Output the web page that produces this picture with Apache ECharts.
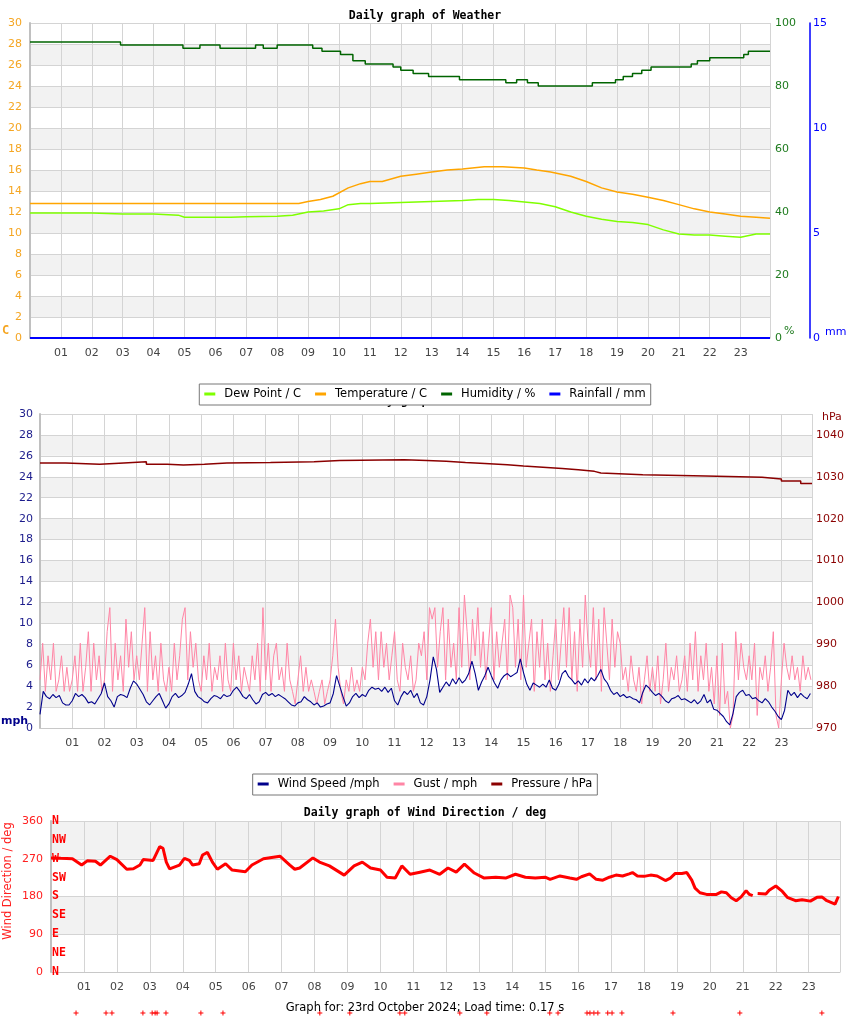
<!DOCTYPE html>
<html><head><meta charset="utf-8">
<script src="https://cdn.jsdelivr.net/npm/echarts@6/dist/echarts.min.js"></script>
<style>html,body{margin:0;padding:0;background:#fff}#c{width:850px;height:1017px}</style>
</head><body><div id="c"></div>
<script>
// ---------- DATA ----------
const hourLabels = ['01','02','03','04','05','06','07','08','09','10','11','12','13','14','15','16','17','18','19','20','21','22','23'];
const compassLabels = ['N','NE','E','SE','S','SW','W','NW','N'];

// [hour, value]
const temperature = [[0,12.8],[2,12.8],[4,12.8],[6,12.8],[8,12.8],[8.7,12.8],[9.0,13.0],[9.4,13.2],[9.8,13.5],[10.3,14.3],[10.7,14.7],[11.0,14.9],[11.4,14.9],[12.0,15.4],[12.5,15.6],[13.0,15.8],[13.5,16.0],[14.0,16.1],[14.7,16.3],[15.3,16.3],[16.0,16.2],[16.4,16.0],[16.85,15.8],[17.5,15.4],[18.0,14.9],[18.5,14.3],[19.0,13.9],[19.5,13.7],[20.0,13.4],[20.5,13.1],[21.0,12.7],[21.5,12.3],[22.0,12.0],[22.5,11.8],[23.0,11.6],[23.5,11.5],[23.95,11.4]];
const dewPoint = [[0,11.9],[1,11.9],[2,11.9],[3,11.8],[4,11.8],[4.8,11.7],[5.0,11.5],[6.0,11.5],[6.5,11.5],[7.0,11.55],[8.0,11.6],[8.5,11.7],[9.0,12.0],[9.5,12.1],[10.0,12.3],[10.3,12.7],[10.7,12.8],[11.0,12.8],[12.0,12.9],[13.0,13.0],[14.0,13.1],[14.5,13.2],[15.0,13.2],[15.5,13.1],[16.0,12.95],[16.5,12.8],[17.0,12.5],[17.5,12.0],[18.0,11.6],[18.5,11.3],[19.0,11.1],[19.5,11.0],[20.0,10.8],[20.5,10.3],[21.0,9.9],[21.5,9.8],[22.0,9.8],[22.5,9.7],[23.0,9.6],[23.5,9.9],[23.95,9.9]];
const humidity = [[0,94],[2.93,93],[4.95,92],[5.5,93],[6.15,92],[7.3,93],[7.55,92],[8.0,93],[9.15,92],[9.45,91],[10.05,90],[10.45,88],[10.85,87],[11.75,86],[12.0,85],[12.4,84],[12.9,83],[13.9,82],[15.4,81],[15.75,82],[16.1,81],[16.45,80],[18.2,81],[18.95,82],[19.2,83],[19.5,84],[19.8,85],[20.1,86],[21.4,87],[21.6,88],[22.0,89],[23.1,90],[23.25,91],[23.95,91]];
const rainfall = [[0,0],[23.95,0]];

// wind speed, one value every 0.1 h from 00:00
const windSpeed = [
1.3,3.5,3.0,2.8,3.2,2.9,3.1,2.4,2.2,2.2, 2.6,3.3,3.0,3.2,2.9,2.4,2.5,2.3,2.8,3.3,
4.3,3.0,2.6,2.0,3.0,3.2,3.1,2.9,3.8,4.5, 4.2,3.7,3.2,2.5,2.2,2.6,3.0,3.3,2.6,1.9,
2.3,3.0,3.3,2.9,3.1,3.4,4.2,5.2,3.5,3.0, 2.8,2.5,2.4,2.8,3.1,3.0,2.8,3.2,3.0,3.1,
3.6,3.9,3.5,3.0,2.8,3.2,2.7,2.3,2.5,3.2, 3.4,3.1,3.3,3.0,3.2,3.0,2.8,2.5,2.2,2.1,
2.4,2.5,3.0,2.7,2.5,2.2,2.4,2.0,2.1,2.3, 2.4,3.3,5.0,4.0,3.0,2.1,2.4,3.0,3.3,2.9,
3.2,3.0,3.6,3.9,3.7,3.8,3.5,3.9,3.4,3.8, 2.6,2.2,3.0,3.5,3.2,3.6,2.9,3.3,2.4,2.2,
3.0,4.6,6.8,5.6,3.4,3.9,4.4,4.0,4.7,4.2, 4.8,4.3,4.6,5.2,6.4,5.2,3.6,4.4,5.0,5.8,
5.0,4.3,3.8,4.6,5.0,5.2,4.9,5.1,5.3,6.6, 5.3,4.2,3.6,4.3,4.1,3.9,4.2,3.9,4.6,3.8,
3.6,4.2,5.2,5.5,4.9,4.6,4.2,4.5,4.1,4.7, 4.3,4.8,4.5,5.0,5.6,4.7,4.3,3.6,3.2,3.4,
3.0,3.2,2.9,3.0,2.8,2.7,2.4,3.4,4.1,3.8, 3.4,3.1,3.3,3.0,2.6,2.4,2.8,2.9,3.1,2.7,
2.8,2.6,2.4,2.7,2.3,2.6,3.2,2.4,2.7,1.8, 1.7,1.4,1.1,0.6,0.3,1.4,3.0,3.4,3.6,3.1,
3.2,2.8,2.9,2.6,2.4,2.8,2.5,2.0,1.6,1.1, 0.8,1.7,3.6,3.1,3.4,2.9,3.3,3.0,2.8,3.3];

// gust, one value every 5 minutes from 00:00
const gust = [
4.6,8.1,3.5,6.9,4.6,8.1,3.5,4.6,6.9,3.5,5.8,3.5,
4.6,6.9,3.5,8.1,3.5,5.8,9.2,3.5,8.1,4.6,6.9,3.5,
4.6,9.2,11.5,3.5,8.1,4.6,6.9,3.5,10.4,5.8,9.2,4.6,
6.9,4.6,8.1,11.5,3.5,9.2,4.6,6.9,3.5,8.1,4.6,3.5,
5.8,3.5,8.1,4.6,6.9,10.4,11.5,4.6,9.2,5.8,8.1,4.6,
3.5,6.9,4.6,8.1,3.5,5.8,4.6,6.9,3.5,8.1,4.6,3.5,
8.1,4.6,6.9,3.5,5.8,4.6,3.5,6.9,4.6,8.1,3.5,11.5,
4.6,8.1,3.5,6.9,8.1,4.6,5.8,3.5,8.1,4.6,3.5,2.3,
4.6,6.9,3.5,5.8,3.5,4.6,3.5,2.3,3.5,4.6,2.3,3.5,
4.6,6.9,10.4,5.8,3.5,2.3,4.6,3.5,5.8,3.5,4.6,3.5,
5.8,4.6,8.1,10.4,5.8,9.2,4.6,9.2,5.8,8.1,4.6,6.9,
9.2,4.6,3.5,8.1,5.8,4.6,6.9,3.5,4.6,8.1,6.9,9.2,
4.6,11.5,10.4,11.5,5.8,9.2,11.5,4.6,10.4,5.8,8.1,4.6,
11.5,5.8,12.7,9.2,4.6,10.4,6.9,11.5,5.8,9.2,4.6,8.1,
11.5,4.6,9.2,5.8,8.1,10.4,4.6,12.7,11.5,5.8,10.4,4.6,
12.7,5.8,8.1,10.4,3.5,9.2,5.8,10.4,4.6,8.1,3.5,6.9,
10.4,4.6,8.1,11.5,5.8,11.5,4.6,9.2,3.5,10.4,5.8,12.7,
8.1,5.8,11.5,4.6,10.4,3.5,11.5,8.1,4.6,10.4,5.8,9.2,
8.1,4.6,5.8,3.5,6.9,4.6,3.5,5.8,2.3,4.6,6.9,3.5,
5.8,3.5,6.9,2.3,4.6,8.1,3.5,5.8,4.6,6.9,3.5,4.6,
6.9,3.5,8.1,4.6,9.2,3.5,6.9,4.6,8.1,3.5,5.8,2.3,
6.9,1.2,8.1,2.3,3.5,0,1.2,9.2,4.6,8.1,5.8,4.6,
6.9,4.6,8.1,1.2,5.8,4.6,6.9,3.5,5.8,9.2,1.2,0,
4.6,8.1,5.8,4.6,6.9,4.6,5.8,3.5,6.9,4.6,5.8,4.6];

const pressure = [[0,1033.3],[0.8,1033.0],[1.85,1033.3],[2.6,1033.6],[3.3,1033.0],[3.95,1032.8],[4.45,1033.0],[5.1,1033.3],[5.8,1033.4],[7.15,1033.6],[8.5,1033.9],[9.3,1034.1],[11.3,1033.9],[12,1033.7],[12.6,1033.4],[13.2,1033.2],[13.8,1032.9],[14.5,1032.6],[15,1032.3],[15.6,1032.0],[16.2,1031.7],[16.7,1031.3],[17.2,1030.9],[17.4,1030.5],[18.7,1030.2],[20.65,1029.9],[22.4,1029.5],[23,1029.0],[23.6,1028.4],[23.95,1028.4]];

const windDir = [[0.0,272],[0.3,271],[0.65,270],[0.93,255],[1.1,265],[1.35,264],[1.5,255],[1.8,276],[2.0,268],[2.3,245],[2.5,246],[2.7,255],[2.8,268],[3.1,266],[3.3,299],[3.4,295],[3.5,262],[3.6,246],[3.9,255],[4.05,271],[4.2,266],[4.3,255],[4.5,258],[4.6,279],[4.75,285],[4.9,262],[5.05,245],[5.3,258],[5.5,243],[5.9,239],[6.1,255],[6.45,270],[6.95,276],[7.25,255],[7.4,245],[7.55,248],[7.95,272],[8.15,262],[8.45,253],[8.9,231],[9.2,253],[9.45,262],[9.7,248],[10.0,243],[10.2,226],[10.45,224],[10.65,253],[10.9,233],[11.2,238],[11.5,243],[11.8,233],[12.05,248],[12.3,238],[12.55,257],[12.85,236],[13.15,224],[13.5,226],[13.8,224],[14.1,233],[14.4,226],[14.7,224],[15.0,226],[15.15,221],[15.45,229],[15.75,224],[15.95,221],[16.1,227],[16.35,234],[16.55,221],[16.75,219],[16.95,226],[17.15,231],[17.35,229],[17.55,234],[17.65,237],[17.8,229],[18.0,228],[18.2,231],[18.4,229],[18.65,218],[18.8,224],[18.95,235],[19.15,235],[19.3,237],[19.45,219],[19.55,200],[19.7,189],[19.9,185],[20.2,185],[20.35,191],[20.5,189],[20.65,177],[20.8,170],[20.95,179],[21.1,194],[21.2,185],[21.3,182],[21.4,null],[21.45,187],[21.7,186],[21.8,195],[22.0,205],[22.2,192],[22.35,178],[22.6,170],[22.8,172],[23.05,169],[23.25,178],[23.4,179],[23.55,170],[23.8,162],[23.9,180]];

// stray direction marks drawn below the plot
const dirOutliers = [[0.76,-98],[1.67,-98],[1.85,-98],[2.79,-98],[3.07,-98],[3.16,-98],[3.22,-98],[3.49,-98],[4.55,-98],[5.22,-98],[8.16,-98],[9.07,-98],[10.59,-98],[10.74,-98],[12.41,-98],[13.23,-98],[15.14,-98],[15.39,-98],[16.27,-98],[16.36,-98],[16.48,-98],[16.6,-98],[16.9,-98],[17.03,-98],[17.33,-98],[18.88,-98],[20.91,-98],[23.4,-98]];

// ---------- CHART ----------
const chart = echarts.init(document.getElementById('c'), null, {renderer:'canvas'});
const F = 'DejaVu Sans';
const MONO = 'DejaVu Sans Mono';
const LS = 11;
const gridColor = '#d4d4d4';
const bands = {show:true, areaStyle:{color:['#ffffff','#f2f2f2']}};
const hourFmt = v => (Math.abs(v-Math.round(v))<1e-6 && v>=1 && v<=23) ? hourLabels[Math.round(v)-1] : '';

function xAx(grid){
  return {type:'value', gridIndex:grid, min:0, max:23.95, interval:1,
    axisLine:{show:true, lineStyle:{color:'#c8c8c8'}}, axisTick:{show:false},
    axisLabel:{formatter:hourFmt, color:'#444', fontFamily:F, fontSize:LS, margin:10, showMaxLabel:false},
    splitLine:{show:true, lineStyle:{color:gridColor}}};
}
const ws = windSpeed.map((v,i)=>[i/10, v]);
const gs = gust.map((v,i)=>[i/12, v]);
const legendCommon = {left:'center', z:10, backgroundColor:'#fff', borderColor:'#777', borderWidth:1, borderRadius:0,
  padding:[4,5,5,5], icon:'rect', itemWidth:11, itemHeight:3, itemGap:14,
  textStyle:{fontFamily:F, fontSize:11.5, color:'#000', padding:[0,0,0,4]}};

const option = {
  animation:false,
  backgroundColor:'#fff',
  title:[
    {text:'Daily graph of Weather', left:'center', top:5, textStyle:{fontFamily:MONO, fontWeight:'bold', fontSize:11.5, color:'#000'}},
    {text:'Daily graph of Wind Direction / deg', left:'center', top:802, textStyle:{fontFamily:MONO, fontWeight:'bold', fontSize:11.5, color:'#000'}},
    {text:'Graph for: 23rd October 2024; Load time: 0.17 s', left:'center', top:997, textStyle:{fontFamily:F, fontWeight:'normal', fontSize:11.5, color:'#000'}}
  ],
  legend:[
    Object.assign({data:['Dew Point / C','Temperature / C','Humidity / %','Rainfall / mm'], top:384}, legendCommon),
    Object.assign({data:['Wind Speed /mph','Gust / mph','Pressure / hPa'], top:774}, legendCommon)
  ],
  grid:[
    {left:30, top:23, width:740, height:315},
    {left:40, top:414, width:772, height:314},
    {left:51, top:821, width:789, height:151}
  ],
  xAxis:[xAx(0), xAx(1), xAx(2)],
  yAxis:[
    {type:'value', gridIndex:0, position:'left', min:0, max:30, interval:2,
     axisLine:{show:true, lineStyle:{color:'#c0c0c0', width:2}}, axisTick:{show:false},
     axisLabel:{color:'#f5a623', fontFamily:F, fontSize:LS, margin:8},
     splitLine:{show:true, lineStyle:{color:gridColor}}, splitArea:bands},
    {type:'value', gridIndex:0, position:'right', min:0, max:100, interval:20,
     axisLine:{show:false}, axisTick:{show:false},
     axisLabel:{color:'#1e7b1e', fontFamily:F, fontSize:LS, margin:5},
     splitLine:{show:false}},
    {type:'value', gridIndex:0, position:'right', offset:40, min:0, max:15, interval:5,
     axisLine:{show:true, lineStyle:{color:'#0000ff', width:1.5}}, axisTick:{show:false},
     axisLabel:{color:'#0000ff', fontFamily:F, fontSize:LS, margin:3},
     splitLine:{show:false}},
    {type:'value', gridIndex:1, position:'left', min:0, max:30, interval:2,
     axisLine:{show:true, lineStyle:{color:'#c0c0c0', width:2}}, axisTick:{show:false},
     axisLabel:{color:'#1c1c8c', fontFamily:F, fontSize:LS, margin:7},
     splitLine:{show:true, lineStyle:{color:gridColor}}, splitArea:bands},
    {type:'value', gridIndex:1, position:'right', min:970, max:1045, interval:10,
     axisLine:{show:false}, axisTick:{show:false},
     axisLabel:{color:'#8b0000', fontFamily:F, fontSize:LS, margin:4, formatter:v => (v%10===0 ? String(v) : '')},
     splitLine:{show:false}},
    {type:'value', gridIndex:2, position:'left', min:0, max:360, interval:90,
     axisLine:{show:true, lineStyle:{color:'#c0c0c0', width:2}}, axisTick:{show:false},
     axisLabel:{color:'#ff2020', fontFamily:F, fontSize:LS, margin:8},
     splitLine:{show:true, lineStyle:{color:gridColor}}, splitArea:bands},
    {type:'value', gridIndex:2, position:'left', min:0, max:360, interval:45,
     axisLine:{show:false}, axisTick:{show:false}, splitLine:{show:false},
     axisLabel:{inside:true, margin:1, color:'#ff0000', fontFamily:MONO, fontWeight:'bold', fontSize:11.5,
       showMinLabel:true, showMaxLabel:true, padding:[0,0,5,0],
       formatter:v => compassLabels[Math.round(v/45)]}}
  ],
  series:[
    {name:'Dew Point / C', type:'line', xAxisIndex:0, yAxisIndex:0, data:dewPoint, showSymbol:false, color:'#7fff00', lineStyle:{width:1.5}, z:3},
    {name:'Temperature / C', type:'line', xAxisIndex:0, yAxisIndex:0, data:temperature, showSymbol:false, color:'#ffa500', lineStyle:{width:1.5}, z:3},
    {name:'Humidity / %', type:'line', xAxisIndex:0, yAxisIndex:1, data:humidity, step:'end', showSymbol:false, color:'#006400', lineStyle:{width:1.5}, z:3},
    {name:'Rainfall / mm', type:'line', xAxisIndex:0, yAxisIndex:2, data:rainfall, showSymbol:false, color:'#0000ff', lineStyle:{width:2}, z:4, clip:false},
    {name:'Gust / mph', type:'line', xAxisIndex:1, yAxisIndex:3, data:gs, showSymbol:false, color:'#ff85a5', lineStyle:{width:1}, z:2},
    {name:'Wind Speed /mph', type:'line', xAxisIndex:1, yAxisIndex:3, data:ws, showSymbol:false, color:'#00008b', lineStyle:{width:1.1}, z:3},
    {name:'Pressure / hPa', type:'line', xAxisIndex:1, yAxisIndex:4, data:pressure, step:'end', showSymbol:false, color:'#8b0000', lineStyle:{width:1.5}, z:3},
    {name:'Wind Direction', type:'line', xAxisIndex:2, yAxisIndex:5, data:windDir, showSymbol:false, connectNulls:false, color:'#ff0000', lineStyle:{width:3}, z:3},
    {name:'Dir marks', type:'scatter', xAxisIndex:2, yAxisIndex:5, data:dirOutliers, clip:false, symbol:'path://M2,0H3V2H5V3H3V5H2V3H0V2H2Z', symbolSize:5, itemStyle:{color:'#ff0000', opacity:1}, z:3}
  ],
  graphic:[
    {type:'text', z:0, left:'center', top:395, style:{text:'Daily graph of Wind', fill:'#000', font:'bold 11.5px "DejaVu Sans Mono"'}},
    {type:'text', left:2, top:325, style:{text:'C', fill:'#f5a623', font:'bold 12px "DejaVu Sans Mono"'}},
    {type:'text', left:784, top:326, style:{text:'%', fill:'#1e7b1e', font:'11px "DejaVu Sans"'}},
    {type:'text', left:825, top:327, style:{text:'mm', fill:'#0000ff', font:'11px "DejaVu Sans"'}},
    {type:'text', left:1, top:716, style:{text:'mph', fill:'#00008b', font:'bold 11px "DejaVu Sans"'}},
    {type:'text', left:822, top:412, style:{text:'hPa', fill:'#8b0000', font:'11px "DejaVu Sans"'}},
    {type:'text', x:8, y:881, rotation:Math.PI/2, style:{text:'Wind Direction / deg', fill:'#ff2020', font:'11.5px "DejaVu Sans"', textAlign:'center', textVerticalAlign:'middle'}}
  ]
};
chart.setOption(option);
</script>
</body></html>
